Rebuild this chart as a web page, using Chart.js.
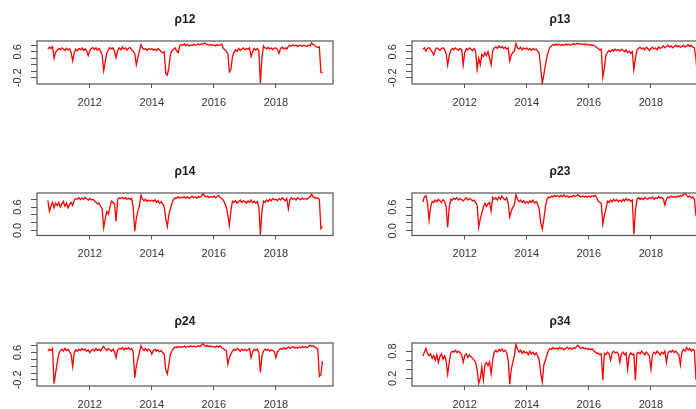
<!DOCTYPE html>
<html>
<head>
<meta charset="utf-8">
<script src="https://cdn.jsdelivr.net/npm/chart.js@4/dist/chart.umd.min.js"></script>
<style>
  html, body { margin: 0; padding: 0; background: #fff; overflow: hidden; width: 696px; height: 409px; }
  .cell { position: absolute; width: 375px; height: 150px; }
</style>
</head>
<body>
<script>
// Sampling dates (decimal years), one observation every 0.05 year from 2010.65 to 2019.50
const dateStart = 2010.65;
const dateStep = 0.05;
const dateCount = 178;
const dates = Array.from({ length: dateCount }, (_, i) => +(dateStart + i * dateStep).toFixed(2));

// x-axis tick labels
const yearTicks = [2012, 2014, 2016, 2018];

// Dynamic conditional correlations
const rho12 = [
  0.68, 0.74, 0.70, 0.76, 0.40, 0.58, 0.64,
  0.70, 0.66, 0.72, 0.68, 0.64, 0.71, 0.66, 0.69, 0.58, 0.32,
  0.56, 0.68, 0.63, 0.70, 0.66, 0.72, 0.64, 0.69, 0.62, 0.48,
  0.63, 0.70, 0.73, 0.67, 0.72, 0.65, 0.70, 0.62, 0.50, 0.02,
  0.30, 0.56, 0.66, 0.73, 0.68, 0.72, 0.60, 0.42, 0.64, 0.72,
  0.66, 0.75, 0.68, 0.72, 0.65, 0.71, 0.73, 0.66, 0.62, 0.55,
  0.20, 0.42, 0.62, 0.82, 0.72, 0.67, 0.70, 0.64, 0.70, 0.67,
  0.70, 0.65, 0.68, 0.63, 0.70, 0.66, 0.61, 0.57, 0.60, -0.06,
  -0.12, 0.12, 0.52, 0.63, 0.67, 0.72, 0.63, 0.57, 0.78, 0.82,
  0.80, 0.84, 0.79, 0.82, 0.78, 0.81, 0.79, 0.83, 0.80, 0.82,
  0.84, 0.81, 0.85, 0.83, 0.87, 0.84, 0.82, 0.80, 0.83, 0.80,
  0.81, 0.78, 0.82, 0.79, 0.80, 0.83, 0.72, 0.66, 0.62, 0.55,
  -0.02, 0.06, 0.45, 0.58, 0.66, 0.61, 0.70, 0.64, 0.68, 0.72,
  0.66, 0.70, 0.67, 0.72, 0.45, 0.60, 0.70, 0.65, 0.70, 0.63,
  -0.36, 0.42, 0.78, 0.72, 0.69, 0.74, 0.68, 0.72, 0.66, 0.71,
  0.72, 0.67, 0.55, 0.70, 0.74, 0.69, 0.72, 0.68, 0.76, 0.80,
  0.77, 0.81, 0.78, 0.80, 0.76, 0.80, 0.79, 0.77, 0.80, 0.78,
  0.76, 0.80, 0.78, 0.87, 0.82, 0.80, 0.76, 0.73, 0.75, -0.03, -0.05
];

const rho13 = [
  0.68, 0.72, 0.62, 0.70, 0.73, 0.66, 0.60,
  0.50, 0.66, 0.72, 0.68, 0.64, 0.70, 0.72, 0.66, 0.55, 0.19,
  0.48, 0.64, 0.70, 0.66, 0.72, 0.68, 0.64, 0.70, 0.66, 0.19,
  0.58, 0.70, 0.66, 0.72, 0.68, 0.63, 0.70, 0.62, 0.06, 0.40,
  0.20, 0.52, 0.45, 0.58, 0.48, 0.60, 0.40, 0.20, 0.62, 0.72,
  0.75, 0.70, 0.78, 0.72, 0.76, 0.70, 0.74, 0.68, 0.72, 0.32,
  0.50, 0.58, 0.62, 0.85, 0.72, 0.68, 0.74, 0.66, 0.72, 0.68,
  0.72, 0.66, 0.70, 0.64, 0.70, 0.66, 0.68, 0.62, 0.55, 0.10,
  -0.36, -0.10, 0.20, 0.45, 0.62, 0.75, 0.78, 0.82, 0.80, 0.84,
  0.80, 0.83, 0.79, 0.82, 0.80, 0.84, 0.81, 0.83, 0.80, 0.82,
  0.85, 0.82, 0.84, 0.86, 0.83, 0.85, 0.82, 0.84, 0.81, 0.83,
  0.80, 0.82, 0.79, 0.81, 0.77, 0.74, 0.70, 0.66, 0.68, -0.18,
  0.10, 0.50, 0.58, 0.64, 0.60, 0.66, 0.62, 0.68, 0.64, 0.66,
  0.62, 0.68, 0.64, 0.60, 0.66, 0.58, 0.62, 0.55, 0.60, 0.05,
  0.40, 0.65, 0.70, 0.74, 0.68, 0.72, 0.66, 0.74, 0.70, 0.64,
  0.70, 0.74, 0.68, 0.72, 0.66, 0.75, 0.70, 0.73, 0.78, 0.72,
  0.76, 0.80, 0.74, 0.78, 0.72, 0.76, 0.80, 0.75, 0.78, 0.74,
  0.76, 0.80, 0.74, 0.78, 0.82, 0.76, 0.80, 0.74, 0.72, 0.40, -0.15
];

const rho14 = [
  0.77, 0.49, 0.62, 0.72, 0.58, 0.70, 0.64,
  0.72, 0.60, 0.68, 0.74, 0.62, 0.70, 0.58, 0.66, 0.72, 0.64,
  0.78, 0.82, 0.80, 0.84, 0.79, 0.83, 0.80, 0.85, 0.81, 0.78,
  0.82, 0.78, 0.80, 0.76, 0.72, 0.68, 0.70, 0.62, 0.55, 0.07,
  0.30, 0.48, 0.42, 0.60, 0.75, 0.72, 0.68, 0.23, 0.80, 0.84,
  0.82, 0.85, 0.81, 0.84, 0.80, 0.83, 0.79, 0.82, 0.60, -0.02,
  0.30, 0.50, 0.62, 0.90, 0.80, 0.76, 0.80, 0.74, 0.78, 0.75,
  0.78, 0.74, 0.79, 0.72, 0.76, 0.70, 0.74, 0.68, 0.60, 0.30,
  0.10, 0.40, 0.55, 0.70, 0.80, 0.84, 0.82, 0.86, 0.83, 0.85,
  0.84, 0.87, 0.83, 0.86, 0.82, 0.85, 0.88, 0.84, 0.86, 0.83,
  0.87, 0.85, 0.88, 0.95, 0.89, 0.86, 0.88, 0.84, 0.87, 0.85,
  0.88, 0.84, 0.87, 0.90, 0.85, 0.82, 0.78, 0.70, 0.60, 0.40,
  0.13, 0.50, 0.75, 0.72, 0.76, 0.70, 0.74, 0.78, 0.72, 0.76,
  0.74, 0.70, 0.76, 0.72, 0.78, 0.71, 0.75, 0.70, 0.74, 0.60,
  -0.11, 0.50, 0.75, 0.72, 0.78, 0.74, 0.80, 0.76, 0.82, 0.78,
  0.80, 0.76, 0.82, 0.78, 0.84, 0.80, 0.76, 0.82, 0.55, 0.78,
  0.84, 0.80, 0.82, 0.78, 0.84, 0.81, 0.79, 0.83, 0.80, 0.82,
  0.80, 0.84, 0.86, 0.93, 0.86, 0.84, 0.82, 0.84, 0.80, 0.05, 0.10
];

const rho23 = [
  0.73, 0.86, 0.89, 0.70, 0.27, 0.60, 0.75,
  0.72, 0.78, 0.74, 0.80, 0.76, 0.72, 0.79, 0.75, 0.60, 0.09,
  0.60, 0.80, 0.78, 0.83, 0.80, 0.84, 0.78, 0.82, 0.79, 0.76,
  0.80, 0.84, 0.78, 0.82, 0.80, 0.76, 0.78, 0.72, 0.65, 0.09,
  0.30, 0.45, 0.60, 0.70, 0.62, 0.68, 0.72, 0.50, 0.85, 0.80,
  0.84, 0.78, 0.86, 0.80, 0.88, 0.82, 0.78, 0.84, 0.70, 0.35,
  0.50, 0.60, 0.66, 0.92, 0.80, 0.74, 0.78, 0.72, 0.76, 0.70,
  0.74, 0.70, 0.76, 0.72, 0.78, 0.70, 0.74, 0.68, 0.55, 0.20,
  0.04, 0.30, 0.60, 0.80, 0.86, 0.84, 0.88, 0.86, 0.90, 0.87,
  0.89, 0.86, 0.90, 0.87, 0.91, 0.86, 0.89, 0.85, 0.88, 0.86,
  0.90, 0.87, 0.89, 0.92, 0.88, 0.86, 0.89, 0.86, 0.88, 0.85,
  0.88, 0.86, 0.89, 0.87, 0.90, 0.85, 0.75, 0.72, 0.70, 0.17,
  0.40, 0.55, 0.75, 0.72, 0.78, 0.74, 0.80, 0.76, 0.79, 0.74,
  0.78, 0.74, 0.80, 0.76, 0.82, 0.77, 0.80, 0.75, 0.78, -0.09,
  0.50, 0.80, 0.84, 0.80, 0.83, 0.79, 0.85, 0.82, 0.80, 0.84,
  0.82, 0.86, 0.80, 0.84, 0.82, 0.87, 0.83, 0.85, 0.81, 0.65,
  0.80, 0.86, 0.84, 0.88, 0.85, 0.87, 0.84, 0.88, 0.86, 0.90,
  0.88, 0.92, 0.95, 0.90, 0.86, 0.88, 0.84, 0.86, 0.80, 0.40, 0.45
];

const rho24 = [
  0.64, 0.70, 0.66, 0.72, -0.31, 0.00, 0.30,
  0.55, 0.65, 0.70, 0.64, 0.72, 0.66, 0.70, 0.62, 0.55, 0.19,
  0.60, 0.68, 0.64, 0.70, 0.66, 0.72, 0.67, 0.70, 0.64, 0.68,
  0.60, 0.66, 0.70, 0.64, 0.72, 0.66, 0.70, 0.65, 0.72, 0.78,
  0.70, 0.66, 0.72, 0.68, 0.64, 0.70, 0.62, 0.45, 0.68, 0.72,
  0.70, 0.75, 0.68, 0.73, 0.70, 0.74, 0.69, 0.72, 0.62, -0.14,
  0.20, 0.40, 0.60, 0.80, 0.70, 0.66, 0.72, 0.65, 0.70, 0.66,
  0.55, 0.66, 0.70, 0.64, 0.68, 0.62, 0.66, 0.60, 0.55, 0.10,
  -0.03, 0.25, 0.55, 0.65, 0.72, 0.76, 0.74, 0.78, 0.75, 0.77,
  0.76, 0.79, 0.75, 0.78, 0.76, 0.80, 0.77, 0.79, 0.76, 0.78,
  0.80, 0.77, 0.82, 0.86, 0.80, 0.78, 0.81, 0.77, 0.79, 0.76,
  0.78, 0.75, 0.79, 0.76, 0.80, 0.74, 0.72, 0.68, 0.66, 0.26,
  0.45, 0.55, 0.64, 0.70, 0.66, 0.72, 0.68, 0.64, 0.70, 0.66,
  0.70, 0.65, 0.68, 0.72, 0.45, 0.62, 0.70, 0.66, 0.70, 0.60,
  0.02, 0.50, 0.65, 0.70, 0.66, 0.70, 0.64, 0.68, 0.66, 0.62,
  0.45, 0.62, 0.68, 0.72, 0.69, 0.74, 0.70, 0.73, 0.76, 0.72,
  0.75, 0.78, 0.73, 0.76, 0.72, 0.77, 0.74, 0.78, 0.75, 0.77,
  0.74, 0.78, 0.82, 0.78, 0.80, 0.76, 0.74, 0.70, -0.10, -0.05, 0.35
];

const rho34 = [
  0.69, 0.78, 0.86, 0.75, 0.70, 0.74, 0.64,
  0.70, 0.60, 0.72, 0.55, 0.68, 0.74, 0.62, 0.70, 0.58, 0.29,
  0.55, 0.76, 0.80, 0.78, 0.82, 0.77, 0.80, 0.76, 0.72, 0.55,
  0.70, 0.74, 0.66, 0.72, 0.68, 0.64, 0.60, 0.55, 0.38, 0.09,
  0.20, 0.45, 0.16, 0.50, 0.55, 0.48, 0.56, 0.30, 0.60, 0.78,
  0.82, 0.78, 0.84, 0.80, 0.85, 0.79, 0.82, 0.76, 0.60, 0.07,
  0.40, 0.55, 0.70, 0.95, 0.84, 0.78, 0.82, 0.75, 0.80, 0.76,
  0.78, 0.72, 0.80, 0.74, 0.78, 0.72, 0.76, 0.70, 0.60, 0.30,
  0.12, 0.50, 0.60, 0.72, 0.82, 0.86, 0.84, 0.88, 0.85, 0.87,
  0.84, 0.88, 0.85, 0.87, 0.83, 0.86, 0.89, 0.85, 0.87, 0.84,
  0.88, 0.86, 0.90, 0.93, 0.88, 0.86, 0.89, 0.85, 0.87, 0.84,
  0.86, 0.83, 0.85, 0.82, 0.78, 0.75, 0.76, 0.72, 0.74, 0.16,
  0.75, 0.72, 0.78, 0.74, 0.60, 0.76, 0.80, 0.76, 0.78, 0.74,
  0.55, 0.74, 0.78, 0.72, 0.76, 0.40, 0.70, 0.76, 0.72, 0.74,
  0.16, 0.75, 0.78, 0.74, 0.80, 0.76, 0.72, 0.78, 0.74, 0.70,
  0.40, 0.72, 0.78, 0.74, 0.80, 0.76, 0.72, 0.78, 0.74, 0.80,
  0.55, 0.76, 0.80, 0.78, 0.82, 0.77, 0.80, 0.76, 0.72, 0.50,
  0.78, 0.84, 0.80, 0.88, 0.82, 0.86, 0.80, 0.84, 0.82, 0.20, 0.25
];

// y-axis ticks and the subset of them that carry a label
const ticksLow = [-0.2, 0.0, 0.2, 0.4, 0.6, 0.8];
const labelsLow = [-0.2, 0.6];
const ticksMid = [0.0, 0.2, 0.4, 0.6, 0.8];
const labelsMid = [0.0, 0.6];
const ticksHigh = [0.2, 0.4, 0.6, 0.8];
const labelsHigh = [0.2, 0.8];

const panels = [
  { title: 'ρ12', values: rho12, col: 0, row: 0, yMin: -0.39, yMax: 0.93, yTicks: ticksLow, yLabels: labelsLow },
  { title: 'ρ13', values: rho13, col: 1, row: 0, yMin: -0.39, yMax: 0.93, yTicks: ticksLow, yLabels: labelsLow },
  { title: 'ρ14', values: rho14, col: 0, row: 1, yMin: -0.13, yMax: 0.96, yTicks: ticksMid, yLabels: labelsMid },
  { title: 'ρ23', values: rho23, col: 1, row: 1, yMin: -0.12, yMax: 0.96, yTicks: ticksMid, yLabels: labelsMid },
  { title: 'ρ24', values: rho24, col: 0, row: 2, yMin: -0.38, yMax: 0.88, yTicks: ticksLow, yLabels: labelsLow },
  { title: 'ρ34', values: rho34, col: 1, row: 2, yMin: 0.03, yMax: 0.98, yTicks: ticksHigh, yLabels: labelsHigh }
];

// layout of the 3 x 2 grid
const colLeft = [0, 375];
const plotTop = [41, 193, 343];
const plotHeight = [43, 42.5, 43];
const cellW = 375, cellH = 150, padTop = 41, axisW = 37, padRight = 42;
const xMin = 2010.30, xMax = 2019.84;
const fontFamily = '"Liberation Sans", Arial, Helvetica, sans-serif';

// draws the panel frame, the bold title and the rotated y tick labels
const framePlugin = {
  id: 'frame',
  afterDraw(chart, args, opts) {
    const { ctx, chartArea: a } = chart;
    const y = chart.scales.y;
    ctx.save();
    ctx.strokeStyle = '#555';
    ctx.lineWidth = 1.2;
    ctx.strokeRect(a.left, a.top, a.right - a.left, a.bottom - a.top);

    ctx.fillStyle = '#1a1a1a';
    ctx.font = 'bold 12px ' + fontFamily;
    ctx.textAlign = 'center';
    ctx.textBaseline = 'middle';
    ctx.fillText(opts.title, (a.left + a.right) / 2, a.top - 21);

    ctx.fillStyle = '#333';
    ctx.font = '11px ' + fontFamily;
    for (const v of opts.yLabels) {
      const py = y.getPixelForValue(v);
      ctx.save();
      ctx.translate(a.left - 19, py);
      ctx.rotate(-Math.PI / 2);
      ctx.fillText(v.toFixed(1), 0, 0);
      ctx.restore();
    }
    ctx.restore();
  }
};

for (const p of panels) {
  const div = document.createElement('div');
  div.className = 'cell';
  div.style.left = colLeft[p.col] + 'px';
  div.style.top = (plotTop[p.row] - padTop) + 'px';
  const canvas = document.createElement('canvas');
  canvas.width = cellW;
  canvas.height = cellH;
  div.appendChild(canvas);
  document.body.appendChild(div);

  const h = plotHeight[p.row];
  new Chart(canvas, {
    type: 'line',
    data: {
      datasets: [{
        data: p.values.map((v, i) => ({ x: dates[i], y: v })),
        borderColor: '#ff0000',
        borderWidth: 1.3,
        pointRadius: 0,
        tension: 0,
        fill: false
      }]
    },
    options: {
      responsive: false,
      animation: false,
      devicePixelRatio: 1,
      layout: { padding: { top: padTop, right: padRight, left: 0, bottom: 0 } },
      plugins: {
        legend: { display: false },
        tooltip: { enabled: false },
        frame: { title: p.title, yLabels: p.yLabels }
      },
      scales: {
        x: {
          type: 'linear',
          min: xMin,
          max: xMax,
          afterBuildTicks: s => { s.ticks = yearTicks.map(v => ({ value: v })); },
          afterFit: s => { s.height = cellH - padTop - h; },
          grid: { drawOnChartArea: false, drawTicks: true, tickLength: 4, color: '#555' },
          border: { display: false },
          ticks: {
            autoSkip: false, maxRotation: 0, minRotation: 0, padding: 8,
            color: '#333', font: { family: fontFamily, size: 11 },
            callback: v => String(v)
          }
        },
        y: {
          type: 'linear',
          min: p.yMin,
          max: p.yMax,
          afterBuildTicks: s => { s.ticks = p.yTicks.map(v => ({ value: v })); },
          afterFit: s => { s.width = axisW; },
          grid: { drawOnChartArea: false, drawTicks: true, tickLength: 6, color: '#555' },
          border: { display: false },
          ticks: { display: false }
        }
      }
    },
    plugins: [framePlugin]
  });
}
</script>
</body>
</html>
